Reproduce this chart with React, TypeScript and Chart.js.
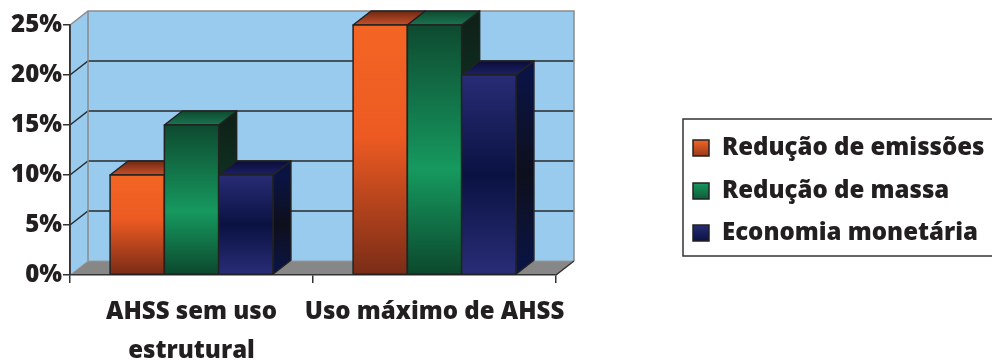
import React, { useEffect, useRef } from "react";
import { Chart, registerables } from "chart.js";

Chart.register(...registerables);

// ---- data ----
const categories: (string | string[])[] = [["AHSS sem uso", "estrutural"], "Uso máximo de AHSS"];
const seriesNames = ["Redução de emissões", "Redução de massa", "Economia monetária"];
const reducaoEmissoes = [10, 25];
const reducaoMassa = [15, 25];
const economiaMonetaria = [10, 20];
const yTickValues = [0, 5, 10, 15, 20, 25];

// ---- styles ----
type Stops = [number, string][];
const frontStops: Stops[] = [
  [[0, "#F36524"], [0.45, "#EC5A22"], [1, "#7A2C17"]],
  [[0, "#0E4A30"], [0.58, "#16995F"], [1, "#0C482D"]],
  [[0, "#282C75"], [0.5, "#0A1242"], [1, "#282D77"]],
];
const sideStops: Stops[] = [
  [[0, "#8A3418"], [1, "#3E140A"]],
  [[0, "#0F2219"], [0.55, "#0E3A26"], [1, "#0B2C1D"]],
  [[0, "#0A1444"], [0.5, "#0E0F1C"], [1, "#0A1547"]],
];
const topStops: Stops[] = [
  [[0, "#C9502A"], [1, "#6E2812"]],
  [[0, "#1A7550"], [1, "#0E4A30"]],
  [[0, "#1C2066"], [1, "#0A0D36"]],
];
const legendStops: Stops[] = [
  [[0, "#F36524"], [1, "#9A3A1C"]],
  [[0, "#16995F"], [1, "#0E5A38"]],
  [[0, "#282C75"], [1, "#0A1242"]],
];

const DX = 18;
const DY = -14;
const FONT = "'Open Sans', Lato, sans-serif";
const TEXT = "#231F20";

function vGrad(ctx: CanvasRenderingContext2D, top: number, bottom: number, stops: Stops) {
  const g = ctx.createLinearGradient(0, top, 0, bottom);
  stops.forEach(([o, c]) => g.addColorStop(o, c));
  return g;
}

function poly(ctx: CanvasRenderingContext2D, pts: number[][]) {
  ctx.beginPath();
  ctx.moveTo(pts[0][0], pts[0][1]);
  for (let i = 1; i < pts.length; i++) ctx.lineTo(pts[i][0], pts[i][1]);
  ctx.closePath();
}

const threeD = {
  id: "threeD",
  beforeDraw(chart: any) {
    const { ctx, chartArea: a, scales } = chart;
    const y = scales.y;
    ctx.save();
    // left wall + back wall
    ctx.fillStyle = "#99CBEE";
    poly(ctx, [[a.left, a.top], [a.left + DX, a.top + DY], [a.left + DX, a.bottom + DY], [a.left, a.bottom]]);
    ctx.fill();
    ctx.fillRect(a.left + DX, a.top + DY, a.right - a.left, a.bottom - a.top);
    // gridlines
    ctx.lineWidth = 1.5;
    yTickValues.forEach((v) => {
      if (v === yTickValues[0] || v === yTickValues[yTickValues.length - 1]) return;
      const py = y.getPixelForValue(v);
      ctx.strokeStyle = "#2B2B2B";
      ctx.beginPath();
      ctx.moveTo(a.left, py);
      ctx.lineTo(a.left + DX, py + DY);
      ctx.lineTo(a.right + DX, py + DY);
      ctx.stroke();
    });
    // wall borders
    ctx.strokeStyle = "#8C8C8C";
    ctx.lineWidth = 1.5;
    ctx.beginPath();
    ctx.moveTo(a.left, a.top);
    ctx.lineTo(a.left + DX, a.top + DY);
    ctx.lineTo(a.right + DX, a.top + DY);
    ctx.lineTo(a.right + DX, a.bottom + DY);
    ctx.moveTo(a.left + DX, a.top + DY);
    ctx.lineTo(a.left + DX, a.bottom + DY);
    ctx.stroke();
    // floor
    ctx.fillStyle = "#878787";
    poly(ctx, [[a.left, a.bottom], [a.right, a.bottom], [a.right + DX, a.bottom + DY], [a.left + DX, a.bottom + DY]]);
    ctx.fill();
    ctx.strokeStyle = "#9A9A9A";
    ctx.lineWidth = 1;
    ctx.beginPath();
    ctx.moveTo(a.left + DX, a.bottom + DY);
    ctx.lineTo(a.right + DX, a.bottom + DY);
    ctx.moveTo(a.left, a.bottom);
    ctx.lineTo(a.left + DX, a.bottom + DY);
    ctx.stroke();
    ctx.strokeStyle = "#333";
    ctx.lineWidth = 1.5;
    ctx.beginPath();
    ctx.moveTo(a.right, a.bottom);
    ctx.lineTo(a.right + DX, a.bottom + DY);
    ctx.stroke();
    ctx.restore();
  },
  afterDatasetsDraw(chart: any) {
    const { ctx } = chart;
    ctx.save();
    ctx.lineWidth = 1.5;
    ctx.lineJoin = "round";
    ctx.strokeStyle = "#222";
    for (let i = 0; i < chart.data.labels.length; i++) {
      chart.data.datasets.forEach((_: any, di: number) => {
        const el = chart.getDatasetMeta(di).data[i];
        const { x, y, base, width } = el.getProps(["x", "y", "base", "width"], true);
        const l = x - width / 2;
        const r = x + width / 2;
        // side
        ctx.fillStyle = vGrad(ctx, y, base, sideStops[di]);
        poly(ctx, [[r, y], [r + DX, y + DY], [r + DX, base + DY], [r, base]]);
        ctx.fill();
        ctx.stroke();
        // top
        ctx.fillStyle = vGrad(ctx, y, y + DY, topStops[di]);
        poly(ctx, [[l, y], [r, y], [r + DX, y + DY], [l + DX, y + DY]]);
        ctx.fill();
        ctx.stroke();
        // front
        ctx.fillStyle = vGrad(ctx, y, base, frontStops[di]);
        poly(ctx, [[l, y], [r, y], [r, base], [l, base]]);
        ctx.fill();
        ctx.stroke();
      });
    }
    ctx.restore();
  },
  afterDraw(chart: any) {
    const { ctx, chartArea: a, scales } = chart;
    const y = scales.y;
    ctx.save();
    ctx.strokeStyle = "#333";
    ctx.lineWidth = 1.5;
    ctx.beginPath();
    ctx.moveTo(a.left, y.getPixelForValue(yTickValues[yTickValues.length - 1]));
    ctx.lineTo(a.left, a.bottom);
    ctx.stroke();
    // legend (box runs past the right edge, as in the source)
    const bx = 683, by = 119, bw = 330, bh = 137;
    ctx.strokeStyle = "#333";
    ctx.lineWidth = 1.5;
    ctx.strokeRect(bx, by, bw, bh);
    const rows = [148, 191, 233];
    ctx.font = `800 24px ${FONT}`;
    ctx.textBaseline = "middle";
    ctx.textAlign = "left";
    chart.data.datasets.forEach((ds: any, di: number) => {
      const cy = rows[di];
      ctx.fillStyle = vGrad(ctx, cy - 8, cy + 8, legendStops[di]);
      ctx.fillRect(693, cy - 8, 16, 16);
      ctx.strokeStyle = "#222";
      ctx.lineWidth = 1.5;
      ctx.strokeRect(693, cy - 8, 16, 16);
      ctx.fillStyle = TEXT;
      ctx.fillText(ds.label, 722, cy);
    });
    ctx.restore();
  },
};

export default function App() {
  const ref = useRef<HTMLCanvasElement>(null);
  useEffect(() => {
    if (!ref.current) return;
    const chart = new Chart(ref.current, {
      type: "bar",
      data: {
        labels: categories,
        datasets: [reducaoEmissoes, reducaoMassa, economiaMonetaria].map((d, i) => ({
          label: seriesNames[i],
          data: d,
          backgroundColor: "rgba(0,0,0,0)",
          borderWidth: 0,
          categoryPercentage: 0.67,
          barPercentage: 1,
        })),
      },
      options: {
        animation: false,
        responsive: true,
        maintainAspectRatio: false,
        layout: { padding: { top: 25, right: 436, left: 0, bottom: 0 } },
        plugins: { legend: { display: false }, tooltip: { enabled: false } },
        scales: {
          x: {
            grid: { offset: true, drawOnChartArea: false, tickLength: 8, color: "#333", lineWidth: 1.5 },
            border: { display: true, color: "#333", width: 1.5 },
            ticks: {
              color: TEXT,
              padding: 9,
              maxRotation: 0,
              autoSkip: false,
              font: { family: FONT, size: 24, weight: "800", lineHeight: 1.64 },
            },
            afterFit: (s: any) => {
              s.height = 86;
            },
          },
          y: {
            min: 0,
            max: 25,
            grid: { drawOnChartArea: false, tickLength: 7, color: "#333", lineWidth: 1.5 },
            border: { display: true, color: "#333", width: 1.5 },
            afterBuildTicks: (s: any) => {
              s.ticks = yTickValues.map((v) => ({ value: v }));
            },
            ticks: {
              color: TEXT,
              padding: 1,
              font: { family: FONT, size: 24, weight: "800" },
              callback: (v: any) => `${v}%`,
            },
            afterFit: (s: any) => {
              s.width = 70;
            },
          },
        },
      },
      plugins: [threeD],
    });
    return () => chart.destroy();
  }, []);
  return (
    <div style={{ position: "fixed", left: 0, top: 0, width: 992, height: 361, background: "#fff" }}>
      <canvas ref={ref} />
    </div>
  );
}
